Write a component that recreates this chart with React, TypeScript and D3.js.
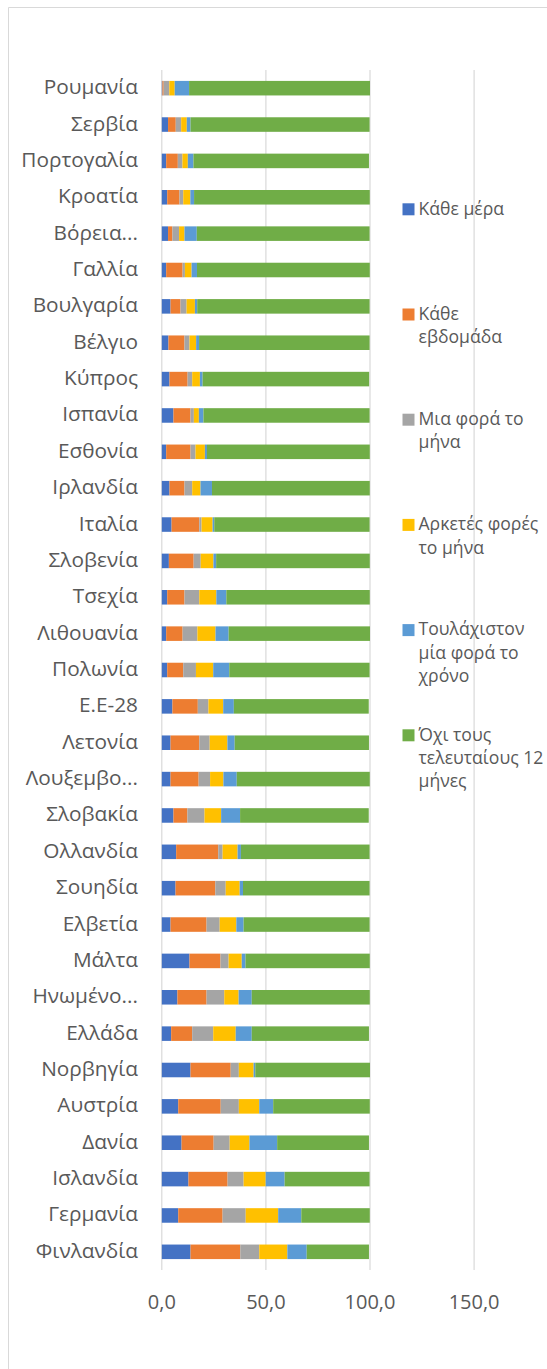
import React from "react";
import * as d3 from "d3";

const categories = [
  "Ρουμανία", "Σερβία", "Πορτογαλία", "Κροατία", "Βόρεια...", "Γαλλία", "Βουλγαρία", "Βέλγιο",
  "Κύπρος", "Ισπανία", "Εσθονία", "Ιρλανδία", "Ιταλία", "Σλοβενία", "Τσεχία", "Λιθουανία",
  "Πολωνία", "Ε.Ε-28", "Λετονία", "Λουξεμβο...", "Σλοβακία", "Ολλανδία", "Σουηδία", "Ελβετία",
  "Μάλτα", "Ηνωμένο...", "Ελλάδα", "Νορβηγία", "Αυστρία", "Δανία", "Ισλανδία", "Γερμανία", "Φινλανδία",
];

const everyDay = [0.3, 3.0, 2.1, 2.6, 3.0, 2.1, 4.2, 3.2, 3.7, 5.6, 2.1, 3.7, 4.7, 3.4, 2.6, 2.1, 2.6, 5.1, 4.2, 4.2, 5.6, 6.9, 6.6, 4.2, 13.3, 7.5, 4.5, 13.8, 7.9, 9.5, 12.8, 7.9, 13.8];
const everyWeek = [0.6, 3.7, 5.6, 5.9, 2.1, 7.9, 4.8, 7.7, 8.7, 8.2, 11.7, 7.2, 13.3, 11.9, 8.3, 7.9, 7.7, 12.2, 13.8, 13.5, 6.7, 20.2, 19.1, 17.3, 14.9, 14.0, 10.1, 19.3, 20.4, 15.4, 18.8, 21.3, 23.9];
const oncePerMonth = [2.7, 2.6, 2.2, 1.8, 3.2, 1.1, 2.9, 2.4, 2.2, 1.6, 2.4, 3.7, 1.1, 3.4, 7.1, 7.1, 6.1, 5.1, 5.0, 5.5, 8.2, 2.1, 5.0, 6.3, 3.9, 8.5, 10.1, 3.9, 8.7, 7.7, 7.7, 11.1, 9.1];
const severalPerMonth = [2.6, 2.7, 2.6, 3.4, 2.6, 3.2, 4.0, 3.2, 3.7, 2.4, 4.5, 4.0, 5.3, 6.1, 8.2, 8.7, 8.3, 7.1, 8.5, 6.4, 8.0, 7.2, 6.7, 8.0, 6.3, 6.9, 10.8, 7.1, 9.8, 9.5, 10.6, 15.6, 13.5];
const oncePerYear = [6.9, 1.8, 2.7, 1.8, 5.9, 2.6, 1.1, 1.4, 1.3, 2.2, 1.0, 5.5, 0.8, 1.3, 4.8, 6.3, 7.7, 5.1, 3.5, 6.4, 9.1, 1.6, 1.6, 3.5, 1.8, 6.3, 7.7, 0.8, 6.7, 13.3, 9.1, 11.1, 9.3];
const notLast12 = [86.9, 86.0, 84.3, 84.4, 83.0, 83.0, 82.8, 81.9, 80.0, 79.8, 78.2, 75.8, 74.6, 73.8, 68.9, 67.9, 67.4, 64.8, 64.5, 63.9, 61.8, 61.8, 60.8, 60.5, 59.7, 56.7, 56.3, 55.1, 46.4, 44.1, 40.8, 32.9, 29.9];

const seriesNames = [
  "Κάθε μέρα",
  "Κάθε εβδομάδα",
  "Μια φορά το μήνα",
  "Αρκετές φορές το μήνα",
  "Τουλάχιστον μία φορά το χρόνο",
  "Όχι τους τελευταίους 12 μήνες",
];
const legendLines = [
  ["Κάθε μέρα"],
  ["Κάθε", "εβδομάδα"],
  ["Μια φορά το", "μήνα"],
  ["Αρκετές φορές", "το μήνα"],
  ["Τουλάχιστον", "μία φορά το", "χρόνο"],
  ["Όχι τους", "τελευταίους 12", "μήνες"],
];
const colors = ["#4472C4", "#ED7D31", "#A5A5A5", "#FFC000", "#5B9BD5", "#70AD47"];
const tickValues = [0, 50, 100, 150];

const seriesValues = [everyDay, everyWeek, oncePerMonth, severalPerMonth, oncePerYear, notLast12];

export default function App() {
  const W = 547;
  const H = 1369;
  const font = "'Segoe UI', 'Open Sans', sans-serif";
  const x = d3.scaleLinear().domain([0, 150]).range([161.8, 474.1]);
  const y = d3
    .scaleBand<string>()
    .domain(categories)
    .range([70, 1270])
    .paddingInner(0.6)
    .paddingOuter(0.3);

  const rows = categories.map((c, i) => {
    const r: any = { cat: c };
    seriesNames.forEach((s, k) => (r[s] = seriesValues[k][i]));
    return r;
  });
  const stacked = d3.stack<any>().keys(seriesNames)(rows);
  const fmt = (v: number) => d3.format(".1f")(v).replace(".", ",");

  const legendTop = 209.3;
  const legendStep = 105.2;
  const lineH = 23.4;

  return (
    <svg
      width={W}
      height={H}
      style={{ position: "absolute", left: 0, top: 0, display: "block", background: "#fff" }}
    >
      <rect x={0} y={0} width={W} height={H} fill="#ffffff" />
      <path d={`M8.5,${H} L8.5,7.5 L${W},7.5`} fill="none" stroke="#d9d9d9" strokeWidth={1} />
      {tickValues.map((t) => (
        <line key={t} x1={x(t)} x2={x(t)} y1={70} y2={1270} stroke="#d9d9d9" strokeWidth={1.2} />
      ))}
      {stacked.map((layer, k) => (
        <g key={k} fill={colors[k]}>
          {layer.map((d, i) => (
            <rect
              key={i}
              x={x(d[0])}
              y={y(categories[i])!}
              width={Math.max(0, x(d[1]) - x(d[0]))}
              height={y.bandwidth()}
            />
          ))}
        </g>
      ))}
      {categories.map((c) => (
        <text
          key={c}
          x={138}
          y={y(c)! + y.bandwidth() / 2 + 6}
          textAnchor="end"
          fontFamily={font}
          fontSize={20.8}
          fill="#595959"
        >
          {c}
        </text>
      ))}
      {tickValues.map((t) => (
        <text
          key={t}
          x={x(t)}
          y={1308.5}
          textAnchor="middle"
          fontFamily={font}
          fontSize={20}
          fill="#595959"
        >
          {fmt(t)}
        </text>
      ))}
      {legendLines.map((lines, k) => {
        const cy = legendTop + k * legendStep;
        return (
          <g key={k}>
            <rect x={402.5} y={cy - 6} width={12} height={12} fill={colors[k]} />
            {lines.map((ln, j) => (
              <text
                key={j}
                x={418.5}
                y={cy + 5.2 + j * lineH}
                fontFamily={font}
                fontSize={17.6}
                fill="#595959"
              >
                {ln}
              </text>
            ))}
          </g>
        );
      })}
    </svg>
  );
}
